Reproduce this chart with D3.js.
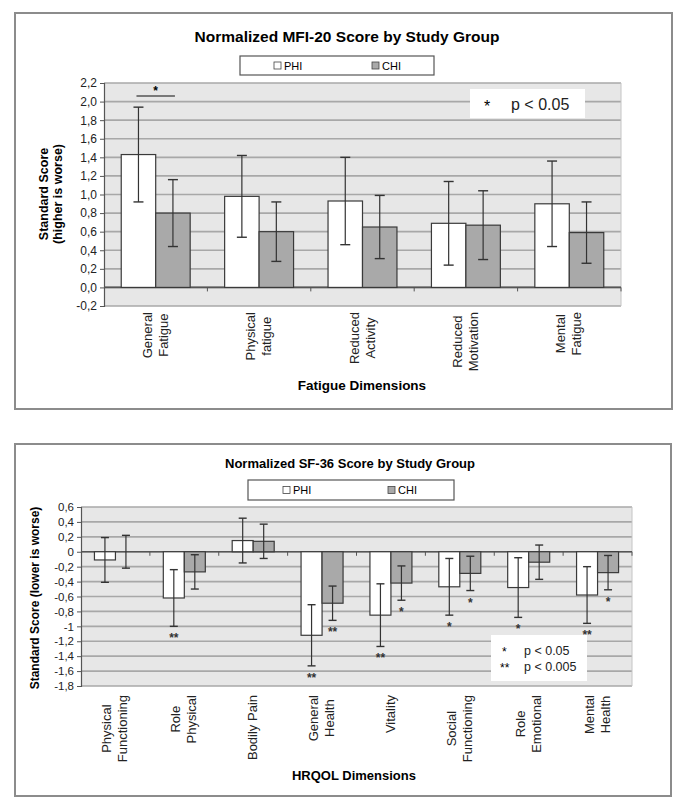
<!DOCTYPE html>
<html>
<head>
<meta charset="utf-8">
<script src="https://cdn.jsdelivr.net/npm/d3@7"></script>
<style>
  body { margin: 0; background: #fff; }
  svg { font-family: "Liberation Sans", Arial, sans-serif; }
</style>
</head>
<body>
<svg id="fig"></svg>
<script>
var width = 685, height = 804

// ---- MFI-20 (top chart)
var fatigueCats = [["General", "Fatigue"], ["Physical", "fatigue"], ["Reduced", "Activity"], ["Reduced", "Motivation"], ["Mental", "Fatigue"]]
var fatiguePHI = [1.43, 0.98, 0.93, 0.69, 0.90]
var fatiguePHIErr = [0.51, 0.44, 0.47, 0.45, 0.46]
var fatigueCHI = [0.80, 0.60, 0.65, 0.67, 0.59]
var fatigueCHIErr = [0.36, 0.32, 0.34, 0.37, 0.33]
var fatigueSig = ["*", "", "", "", ""]
var fatigueSigLevel = 2.06
var fatigueTicks = [-0.2, 0, 0.2, 0.4, 0.6, 0.8, 1.0, 1.2, 1.4, 1.6, 1.8, 2.0, 2.2]
var fatigueTickLabels = ["-0,2", "0,0", "0,2", "0,4", "0,6", "0,8", "1,0", "1,2", "1,4", "1,6", "1,8", "2,0", "2,2"]

// ---- SF-36 (bottom chart)
var hrqolCats = [["Physical", "Functioning"], ["Role", "Physical"], ["Bodily Pain"], ["General", "Health"], ["Vitality"], ["Social", "Functioning"], ["Role", "Emotional"], ["Mental", "Health"]]
var hrqolPHI = [-0.11, -0.62, 0.15, -1.12, -0.85, -0.47, -0.48, -0.58]
var hrqolPHIErr = [0.30, 0.38, 0.30, 0.41, 0.42, 0.38, 0.40, 0.38]
var hrqolCHI = [0.0, -0.27, 0.14, -0.69, -0.42, -0.29, -0.14, -0.28]
var hrqolCHIErr = [0.22, 0.23, 0.23, 0.23, 0.23, 0.23, 0.23, 0.23]
var hrqolPHISig = ["", "**", "", "**", "**", "*", "*", "**"]
var hrqolCHISig = ["", "", "", "**", "*", "*", "", "*"]
var hrqolTicks = [-1.8, -1.6, -1.4, -1.2, -1, -0.8, -0.6, -0.4, -0.2, 0, 0.2, 0.4, 0.6]
var hrqolTickLabels = ["-1,8", "-1,6", "-1,4", "-1,2", "-1", "-0,8", "-0,6", "-0,4", "-0,2", "0", "0,2", "0,4", "0,6"]

var groups = ["PHI", "CHI"]
var fills = {PHI: "#ffffff", CHI: "#a9a9a9"}

var svg = d3.select("#fig")
    .attr("width", width)
    .attr("height", height)
    .style("background", "#fff")

function drawChart(o) {
    var g = svg.append("g")

    // outer frame
    g.append("rect")
        .attr("x", o.frame[0]).attr("y", o.frame[1])
        .attr("width", o.frame[2]).attr("height", o.frame[3])
        .attr("fill", "#fff").attr("stroke", "#8c8c8c").attr("stroke-width", 2)

    g.append("text")
        .attr("x", o.titleX).attr("y", o.titleY)
        .attr("text-anchor", "middle")
        .style("font-weight", "bold").style("font-size", o.titleSize + "px")
        .text(o.title)

    // legend box
    var lg = g.append("g")
    lg.append("rect")
        .attr("x", o.legend[0]).attr("y", o.legend[1])
        .attr("width", o.legend[2]).attr("height", o.legend[3])
        .attr("fill", "#fff").attr("stroke", "#555").attr("stroke-width", 1.2)
    groups.forEach(function(k, i) {
        var lx = o.legendItemX[i], ly = o.legend[1] + o.legend[3] / 2
        lg.append("rect")
            .attr("x", lx).attr("y", ly - 3.5).attr("width", 7).attr("height", 7)
            .attr("fill", fills[k]).attr("stroke", "#444").attr("stroke-width", 0.8)
        lg.append("text")
            .attr("x", lx + 10).attr("y", ly + 4)
            .style("font-size", "11px")
            .text(k)
    })

    var y = d3.scaleLinear().domain(o.domain).range([o.plot.b, o.plot.t])
    var x0 = d3.scaleBand().domain(d3.range(o.cats.length)).range([o.plot.l, o.plot.r])
    var x1 = d3.scaleBand().domain(groups).range([0, x0.bandwidth()]).paddingOuter(o.outerPad)

    // plot background + grid
    g.append("rect")
        .attr("x", o.plot.l).attr("y", o.plot.t)
        .attr("width", o.plot.r - o.plot.l).attr("height", o.plot.b - o.plot.t)
        .attr("fill", "#e7e7e7")
    g.selectAll(".grid")
        .data(o.ticks)
        .enter().append("line")
        .attr("x1", o.plot.l).attr("x2", o.plot.r)
        .attr("y1", function(d) { return y(d) }).attr("y2", function(d) { return y(d) })
        .attr("stroke", "#a8a8a8").attr("stroke-width", 1.7)
    g.append("line")
        .attr("x1", o.plot.r).attr("x2", o.plot.r)
        .attr("y1", o.plot.t).attr("y2", o.plot.b)
        .attr("stroke", "#c4c4c4").attr("stroke-width", 1)

    // y axis
    var yAxis = d3.axisLeft(y)
        .tickValues(o.ticks)
        .tickFormat(function(d, i) { return o.tickLabels[i] })
        .tickSize(4).tickPadding(3)
    var ya = g.append("g").attr("transform", "translate(" + o.plot.l + ",0)").call(yAxis)
    ya.select(".domain").attr("stroke", "#555").attr("stroke-width", 1.2)
    ya.selectAll(".tick line").attr("stroke", "#555")
    ya.selectAll(".tick text")
        .style("font-size", o.tickSize + "px").attr("fill", "#222")
        .style("font-family", "'Liberation Sans', Arial, sans-serif")

    // zero line with category ticks
    g.append("line")
        .attr("x1", o.plot.l).attr("x2", o.plot.r)
        .attr("y1", y(0)).attr("y2", y(0))
        .attr("stroke", "#555").attr("stroke-width", 1.6)
    g.selectAll(".ctick")
        .data(d3.range(1, o.cats.length + 1))
        .enter().append("line")
        .attr("x1", function(d) { return x0(0) + d * x0.step() })
        .attr("x2", function(d) { return x0(0) + d * x0.step() })
        .attr("y1", y(0)).attr("y2", y(0) + 4)
        .attr("stroke", "#555").attr("stroke-width", 1)

    // bars
    var rows = []
    o.cats.forEach(function(c, i) {
        rows.push({i: i, k: "PHI", v: o.phi[i], e: o.phiErr[i], s: o.phiSig ? o.phiSig[i] : ""})
        rows.push({i: i, k: "CHI", v: o.chi[i], e: o.chiErr[i], s: o.chiSig ? o.chiSig[i] : ""})
    })
    var cx = function(d) { return x0(d.i) + x1(d.k) + x1.bandwidth() / 2 }
    g.selectAll(".bar")
        .data(rows)
        .enter().append("rect")
        .attr("x", function(d) { return x0(d.i) + x1(d.k) })
        .attr("width", x1.bandwidth())
        .attr("y", function(d) { return Math.min(y(d.v), y(0)) })
        .attr("height", function(d) { return Math.abs(y(d.v) - y(0)) })
        .attr("fill", function(d) { return fills[d.k] })
        .attr("stroke", "#3a3a3a").attr("stroke-width", 1.2)

    // error bars
    var eb = g.selectAll(".err").data(rows).enter().append("g")
    eb.append("line")
        .attr("x1", cx).attr("x2", cx)
        .attr("y1", function(d) { return y(d.v - d.e) })
        .attr("y2", function(d) { return y(d.v + d.e) })
        .attr("stroke", "#333").attr("stroke-width", 1.2)
    ;[-1, 1].forEach(function(sgn) {
        eb.append("line")
            .attr("x1", function(d) { return cx(d) - o.cap }).attr("x2", function(d) { return cx(d) + o.cap })
            .attr("y1", function(d) { return y(d.v + sgn * d.e) })
            .attr("y2", function(d) { return y(d.v + sgn * d.e) })
            .attr("stroke", "#333").attr("stroke-width", 1.4)
    })

    // stars under error bars
    g.selectAll(".sig")
        .data(rows.filter(function(d) { return d.s }))
        .enter().append("text")
        .attr("x", cx)
        .attr("y", function(d) { return y(d.v - d.e) + 16 })
        .attr("text-anchor", "middle")
        .style("font-size", "12px").style("font-weight", "bold").attr("fill", "#333")
        .text(function(d) { return d.s })

    // x labels (rotated, lines centred on the longest one)
    o.cats.forEach(function(lines, i) {
        var cxg = x0(i) + x0.bandwidth() / 2
        var texts = lines.map(function(t, j) {
            return g.append("text")
                .attr("text-anchor", "middle")
                .style("font-size", o.xLabelSize + "px").attr("fill", "#222")
                .text(t)
        })
        var maxLen = d3.max(texts, function(t) { return t.node().getComputedTextLength() })
        texts.forEach(function(t, j) {
            var lx = cxg + (j - (lines.length - 1) / 2) * o.lineGap + 4
            t.attr("transform", "translate(" + lx + "," + (o.xLabelTop + maxLen / 2) + ") rotate(-90)")
        })
    })

    g.append("text")
        .attr("x", o.xTitle[0]).attr("y", o.xTitle[1])
        .attr("text-anchor", "middle")
        .style("font-weight", "bold").style("font-size", o.xTitleSize + "px")
        .text(o.xTitleText)

    o.yTitleLines.forEach(function(t, j) {
        g.append("text")
            .attr("transform", "translate(" + (o.yTitle[0] + j * 14) + "," + o.yTitle[1] + ") rotate(-90)")
            .attr("text-anchor", "middle")
            .style("font-weight", "bold").style("font-size", o.yTitleSize + "px")
            .text(t)
    })

    return {g: g, y: y, x0: x0, x1: x1}
}

// ---- top chart
var mfi = drawChart({
    frame: [15, 13, 657, 396],
    title: "Normalized MFI-20 Score by Study Group", titleX: 347, titleY: 42, titleSize: 15.5,
    legend: [240, 56, 194, 19], legendItemX: [274, 372],
    plot: {l: 104, r: 621, t: 83, b: 306},
    domain: [-0.2, 2.2], ticks: fatigueTicks, tickLabels: fatigueTickLabels, tickSize: 12,
    cats: fatigueCats, outerPad: 0.5, cap: 5,
    phi: fatiguePHI, phiErr: fatiguePHIErr, chi: fatigueCHI, chiErr: fatigueCHIErr,
    xLabelTop: 312, xLabelSize: 13, lineGap: 16,
    xTitle: [362, 390], xTitleText: "Fatigue Dimensions", xTitleSize: 13.5,
    yTitle: [48, 194], yTitleLines: ["Standard Score", "(higher is worse)"], yTitleSize: 12.5
})

// significance bracket over first pair
fatigueSig.forEach(function(s, i) {
    if (!s) return
    var xa = mfi.x0(i) + mfi.x1("PHI") + mfi.x1.bandwidth() / 2 - 2
    var xb = mfi.x0(i) + mfi.x1("CHI") + mfi.x1.bandwidth() / 2 + 2
    mfi.g.append("line")
        .attr("x1", xa).attr("x2", xb)
        .attr("y1", mfi.y(fatigueSigLevel)).attr("y2", mfi.y(fatigueSigLevel))
        .attr("stroke", "#555").attr("stroke-width", 1.4)
    mfi.g.append("text")
        .attr("x", (xa + xb) / 2).attr("y", mfi.y(fatigueSigLevel) - 1)
        .attr("text-anchor", "middle")
        .style("font-size", "12px").style("font-weight", "bold")
        .text(s)
})

// p-value key (top)
var kt = mfi.g.append("g")
kt.append("rect").attr("x", 470).attr("y", 89).attr("width", 115).attr("height", 29).attr("fill", "#fff")
kt.append("text").attr("x", 484).attr("y", 112).style("font-size", "16px").text("*")
kt.append("text").attr("x", 511).attr("y", 110).style("font-size", "16px").attr("fill", "#222").text("p < 0.05")

// ---- bottom chart
var sf = drawChart({
    frame: [15, 444, 656, 352],
    title: "Normalized SF-36 Score by Study Group", titleX: 350, titleY: 468, titleSize: 13,
    legend: [248, 480, 206, 20], legendItemX: [283, 388],
    plot: {l: 81, r: 632, t: 507, b: 686},
    domain: [-1.8, 0.6], ticks: hrqolTicks, tickLabels: hrqolTickLabels, tickSize: 11.5,
    cats: hrqolCats, outerPad: 0.64, cap: 4,
    phi: hrqolPHI, phiErr: hrqolPHIErr, chi: hrqolCHI, chiErr: hrqolCHIErr,
    phiSig: hrqolPHISig, chiSig: hrqolCHISig,
    xLabelTop: 695, xLabelSize: 13, lineGap: 16,
    xTitle: [354, 780], xTitleText: "HRQOL Dimensions", xTitleSize: 13,
    yTitle: [39, 598], yTitleLines: ["Standard Score (lower is worse)"], yTitleSize: 12
})

var kb = sf.g.append("g")
kb.append("rect").attr("x", 491).attr("y", 635).attr("width", 96).attr("height", 46).attr("fill", "#fff")
kb.append("text").attr("x", 502).attr("y", 656).style("font-size", "12px").text("*")
kb.append("text").attr("x", 524).attr("y", 655).style("font-size", "12.5px").attr("fill", "#222").text("p < 0.05")
kb.append("text").attr("x", 500).attr("y", 672).style("font-size", "12px").text("**")
kb.append("text").attr("x", 524).attr("y", 671).style("font-size", "12.5px").attr("fill", "#222").text("p < 0.005")
</script>
</body>
</html>
